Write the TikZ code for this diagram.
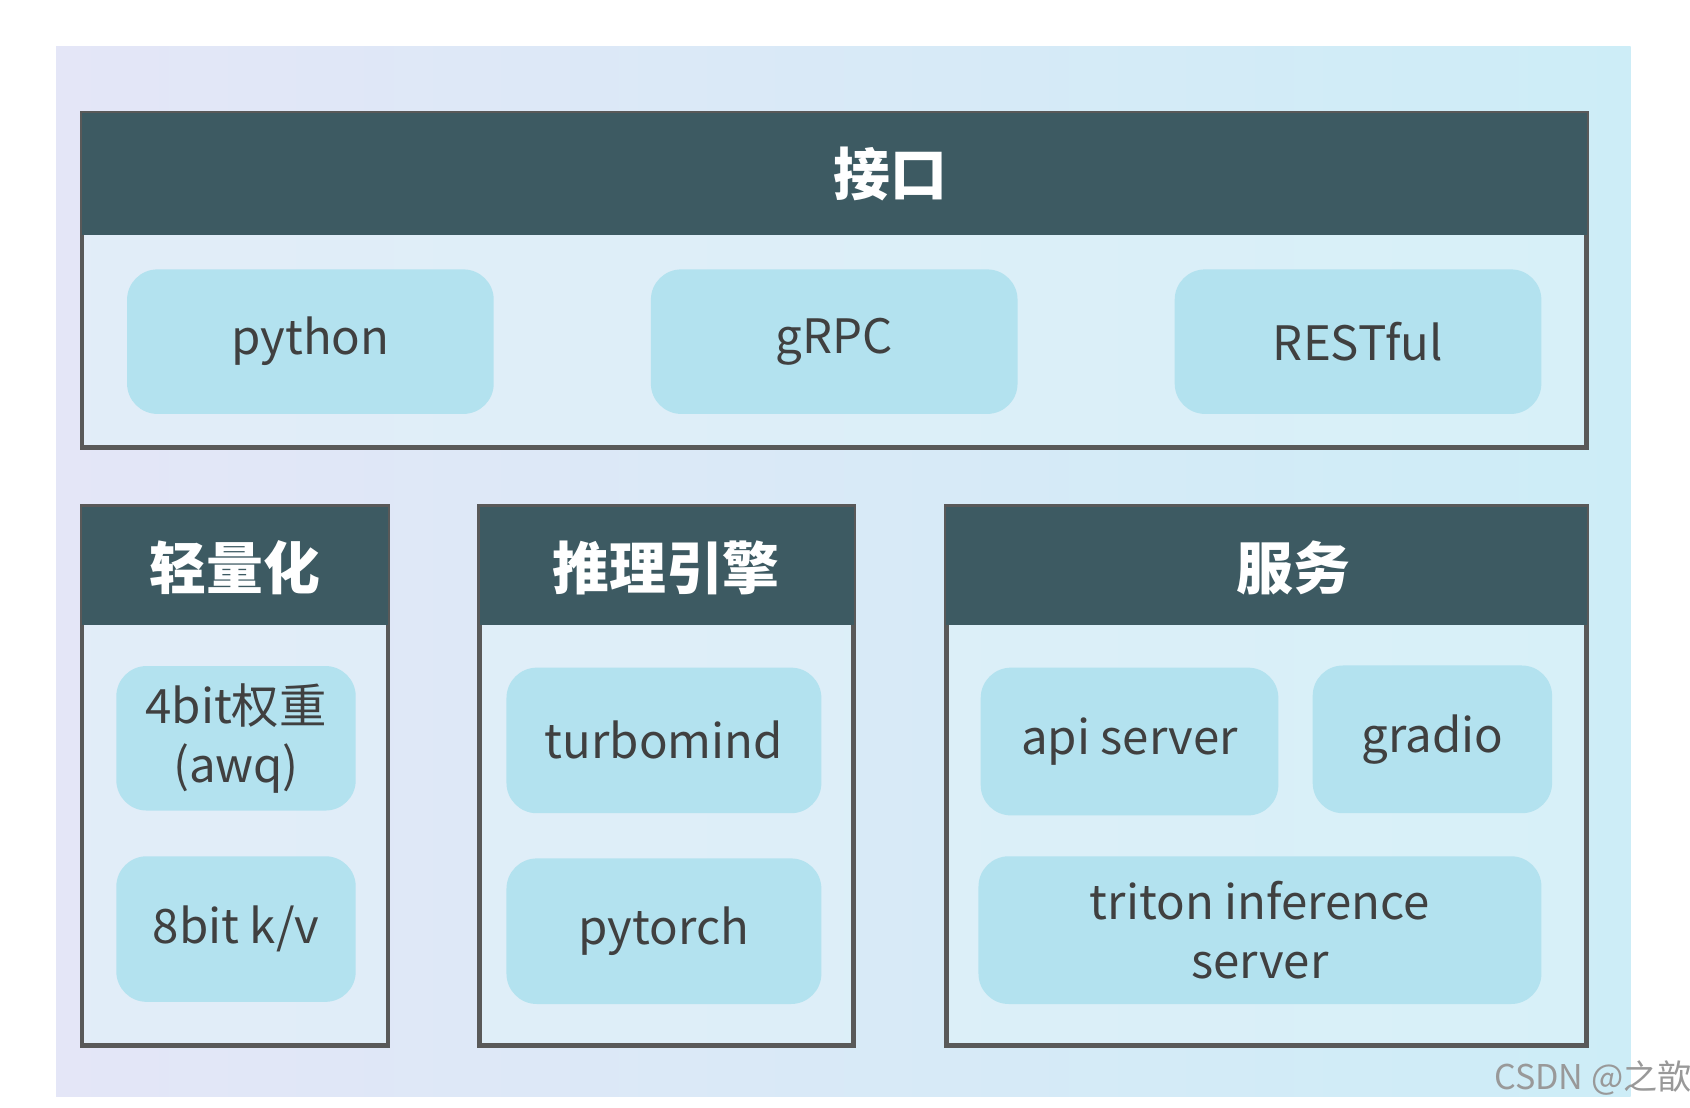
\documentclass[tikz,border=0pt]{standalone}
\usepackage{fontspec}
\setmainfont{Noto Sans CJK SC}
\definecolor{headteal}{HTML}{3D5A62}
\definecolor{pillblue}{HTML}{B3E2EF}
\definecolor{panelA}{HTML}{E4E6F7}
\definecolor{panelB}{HTML}{CDEDF7}
\begin{document}
\begin{tikzpicture}[x=0.01cm,y=-0.01cm,
    frame/.style={draw=black!65,line width=1.2pt,fill=white!40!panelB,fill opacity=0.5},
    head/.style={fill=headteal,text=white,font=\fontsize{15}{17}\selectfont\bfseries},
    pill/.style={fill=pillblue,rounded corners=8pt,text=black!75,align=center,
      font=\fontsize{12.5}{15.5}\selectfont}]
    \useasboundingbox (0,0) rectangle (1568,1028);
    \shade[left color=panelA,right color=panelB] (52,43) rectangle (1513,1017);
    % interface block
    \draw[frame] (76,105) rectangle (1472,415);
    \fill[headteal] (76,105) rectangle (1472,218);
    \node (api)[head] at (826,161) {接口};
    \node (python)[pill,minimum width=3.4cm,minimum height=1.34cm] at (288,317) {python};
    \node (grpc)[pill,minimum width=3.4cm,minimum height=1.34cm] at (774,317) {gRPC};
    \node (rest)[pill,minimum width=3.4cm,minimum height=1.34cm] at (1260,317) {RESTful};
    % lightweight block
    \draw[frame] (76,470) rectangle (360,970);
    \fill[headteal] (76,470) rectangle (360,580);
    \node (quant)[head] at (218,527) {轻量化};
    \node (awq)[pill,minimum width=2.22cm,minimum height=1.34cm] at (219,685) {4bit权重\\(awq)};
    \node (kv)[pill,minimum width=2.22cm,minimum height=1.35cm] at (219,862) {8bit k/v};
    % engine block
    \draw[frame] (445,470) rectangle (792,970);
    \fill[headteal] (445,470) rectangle (792,580);
    \node (engine)[head] at (618,527) {推理引擎};
    \node (turbo)[pill,minimum width=2.92cm,minimum height=1.35cm] at (616,687) {turbomind};
    \node (torch)[pill,minimum width=2.92cm,minimum height=1.35cm] at (616,864) {pytorch};
    % serving block
    \draw[frame] (878,470) rectangle (1472,970);
    \fill[headteal] (878,470) rectangle (1472,580);
    \node (serve)[head] at (1200,527) {服务};
    \node (apiserver)[pill,minimum width=2.76cm,minimum height=1.37cm] at (1048,688) {api server};
    \node (gradio)[pill,minimum width=2.22cm,minimum height=1.37cm] at (1329,686) {gradio};
    \node (triton)[pill,minimum width=5.22cm,minimum height=1.37cm] at (1169,863) {triton inference\\server};
    \node (mark)[text=black!40,font=\fontsize{9}{11}\selectfont] at (1478,1000) {CSDN @之歆};
\end{tikzpicture}
\end{document}
